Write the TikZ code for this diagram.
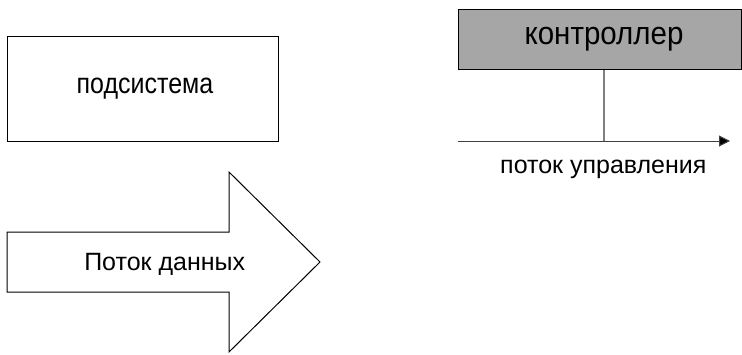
\documentclass[tikz,border=0pt]{standalone}
\usepackage{graphicx}
\usepackage{fontspec}
\setmainfont{Liberation Sans}
\usetikzlibrary{arrows.meta}
\definecolor{ctrlgray}{HTML}{A6A6A6}
\definecolor{tapgray}{HTML}{7F7F7F}
\tikzset{
    block/.style={draw=black,line width=1pt,inner sep=0pt,font=\fontsize{25}{30}\selectfont},
    lbl/.style={inner sep=0pt,anchor=base,font=\fontsize{25}{30}\selectfont}
}

\begin{document}
\begin{tikzpicture}[x=1pt,y=-1pt]
    \useasboundingbox (0,0) rectangle (742,354);
    \node[block,minimum width=271pt,minimum height=105pt] (sub) at (142.5,88.5) {\hspace*{5pt}\scalebox{1}[1.15]{подсистема}};
    \node[block,fill=ctrlgray,minimum width=283pt,minimum height=60pt,font=\fontsize{29.5}{34}\selectfont] (ctrl) at (599.5,39) {\hspace*{9pt}\raisebox{-2pt}{\scalebox{1}[1.09]{контроллер}}};
    % data flow arrow
    \draw[line width=1pt] (7,232) -- (229,232) -- (229,172) -- (320,262) -- (229,352) -- (229,292) -- (7,292) -- cycle;
    \node[lbl] (data) at (164.7,270) {Поток данных};
    % control flow
    \coordinate (flowstart) at (458,141);
    \coordinate (flowend) at (730,141);
    \coordinate (tap) at (604,141);
    \draw[tapgray,line width=1.3pt] (tap |- ctrl.south) -- (tap);
    \draw[black!75,line width=1pt,-{Triangle[length=11pt,width=11pt,fill=black]}] (flowstart) -- (flowend);
    \node[lbl] (flowlbl) at (603.3,173.3) {поток управления};
\end{tikzpicture}
\end{document}
